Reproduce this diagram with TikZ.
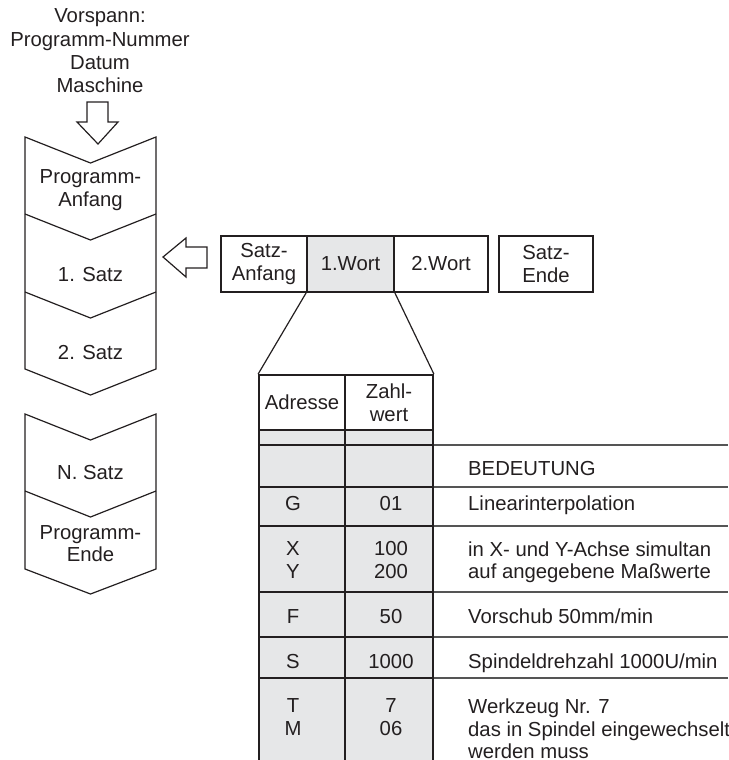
\documentclass[tikz,border=0pt]{standalone}
\usepackage{fontspec}
\setmainfont{Liberation Sans}
\definecolor{txt}{RGB}{35,31,32}
\definecolor{fillg}{RGB}{230,231,232}
\definecolor{rulec}{RGB}{85,85,85}
\begin{document}
\begin{tikzpicture}[x=1pt,y=-1pt,
  every node/.style={font=\fontsize{20.3}{22.5}\selectfont, text=txt, inner sep=0pt},
  ml/.style={align=center},
  sl/.style={text height=14pt, text depth=0pt},
  shp/.style={draw=txt, line width=1.2pt, line join=miter},
  cell/.style={draw=txt, line width=1.8pt, minimum width=#1, minimum height=56pt, align=center},
  hcell/.style={draw=txt, line width=1.8pt, minimum width=#1, minimum height=55pt, align=center},
  tbl/.style={draw=txt, line width=1.8pt},
  rrule/.style={draw=rulec, line width=2pt}
]
\useasboundingbox (0,0) rectangle (728,760);

% header text
\node[ml, font=\fontsize{20.3}{23.3}\selectfont] (vor) at (100,51) {Vorspann:\\Programm-Nummer\\Datum\\Maschine};

% down arrow
\draw[shp] (87,102) -- (108,102) -- (108,122) -- (118,122) -- (98,144) -- (77,122) -- (87,122) -- cycle;

% chevron stack 1
\draw[shp] (25,137) -- (90.5,163) -- (156,137) -- (156,369) -- (90.5,395) -- (25,369) -- cycle;
\draw[shp] (25,214) -- (90.5,240) -- (156,214);
\draw[shp] (25,292) -- (90.5,318) -- (156,292);
% chevron stack 2
\draw[shp] (25,414) -- (90.5,440) -- (156,414) -- (156,569) -- (90.5,594) -- (25,569) -- cycle;
\draw[shp] (25,491) -- (90.5,517) -- (156,491);

\node[ml] (pa) at (90.5,190) {Programm-\\Anfang};
\node[sl] (s1) at (90.5,274) {1. Satz};
\node[sl] (s2) at (90.5,352) {2. Satz};
\node[sl] (sn) at (90.5,472) {N. Satz};
\node[ml] (pe) at (90.5,543.5) {Programm-\\Ende};

% left arrow
\draw[shp] (163,257) -- (186,238) -- (186,247) -- (207,247) -- (207,268) -- (186,268) -- (186,277) -- cycle;

% sentence row
\node[cell=86pt] (sa) at (264,264) {Satz-\\Anfang};
\node[cell=87pt, fill=fillg] (w1) at (350.5,264) {1.Wort};
\node[cell=94pt] (w2) at (441,264) {2.Wort};
\node[cell=94pt] (se) at (546,264) {Satz-\\Ende};

% table header
\node[hcell=86pt] (adr) at (302,402.5) {Adresse};
\node[hcell=88pt] (zw) at (389,402.5) {Zahl-\\wert};

\draw[line width=1.2pt, draw=txt] (w1.south west) -- (adr.north west);
\draw[line width=1.2pt, draw=txt] (w1.south east) -- (zw.north east);

% table body
\fill[fillg] (259,431) rectangle (433,760);
\foreach \yy in {445,487,526,592,637,678} {
  \draw[tbl] (259,\yy) -- (433,\yy);
  \draw[rrule] (433,\yy) -- (728,\yy);
}
\draw[tbl] (259,430) -- (259,760);
\draw[tbl] (345,430) -- (345,760);
\draw[tbl] (433,430) -- (433,760);

\node[sl, anchor=west] (bed) at (468,468) {BEDEUTUNG};

\node[sl] (ag) at (293,503) {G};
\node[sl] (zg) at (391,503) {01};
\node[sl, anchor=west] (dg) at (468,503) {Linearinterpolation};

\node[ml] (axy) at (293,560) {X\\Y};
\node[ml] (zxy) at (391,560) {100\\200};
\node[align=left, anchor=west] (dxy) at (468,562) {in X- und Y-Achse simultan\\auf angegebene Maßwerte};

\node[sl] (af) at (293,616) {F};
\node[sl] (zf) at (391,616) {50};
\node[sl, anchor=west] (df) at (468,616) {Vorschub 50mm/min};

\node[sl] (as) at (293,661) {S};
\node[sl] (zs) at (391,661) {1000};
\node[sl, anchor=west] (ds) at (468,661) {Spindeldrehzahl 1000U/min};

\node[ml] (atm) at (293,717) {T\\M};
\node[ml] (ztm) at (391,717) {7\\06};
\node[align=left, anchor=west] (dtm) at (468,729) {Werkzeug Nr. 7\\das in Spindel eingewechselt\\werden muss};
\end{tikzpicture}
\end{document}
